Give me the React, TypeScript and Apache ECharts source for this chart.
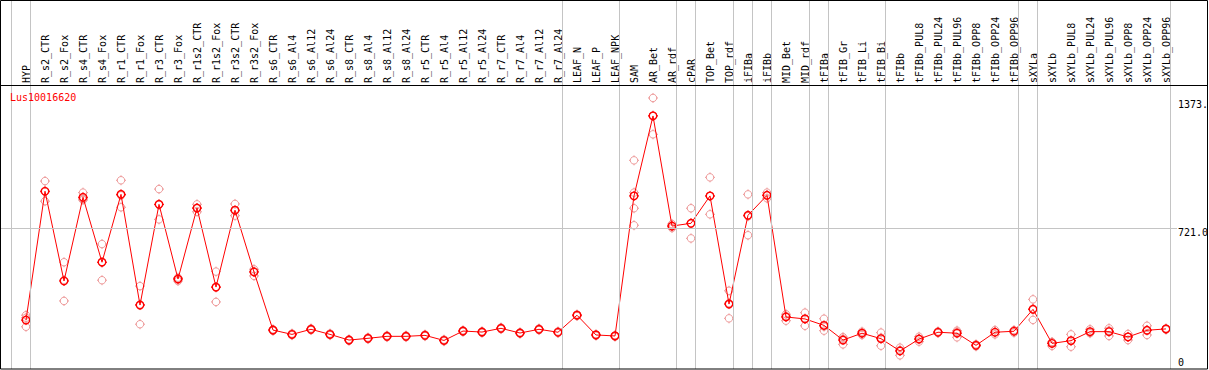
import React, { useEffect, useRef } from "react";
import * as echarts from "echarts";

const geneName = "Lus10016620";

const categories = [
  "HYP", "R_s2_CTR", "R_s2_Fox", "R_s4_CTR", "R_s4_Fox", "R_r1_CTR", "R_r1_Fox",
  "R_r3_CTR", "R_r3_Fox", "R_r1s2_CTR", "R_r1s2_Fox", "R_r3s2_CTR", "R_r3s2_Fox",
  "R_s6_CTR", "R_s6_Al4", "R_s6_Al12", "R_s6_Al24", "R_s8_CTR", "R_s8_Al4",
  "R_s8_Al12", "R_s8_Al24", "R_r5_CTR", "R_r5_Al4", "R_r5_Al12", "R_r5_Al24",
  "R_r7_CTR", "R_r7_Al4", "R_r7_Al12", "R_r7_Al24", "LEAF_N", "LEAF_P", "LEAF_NPK",
  "SAM", "AR_Bet", "AR_rdf", "cPAR", "TOP_Bet", "TOP_rdf", "iFIBa", "iFIBb",
  "MID_Bet", "MID_rdf", "tFIBa", "tFIB_Gr", "tFIB_Li", "tFIB_Bi", "tFIBb",
  "tFIBb_PUL8", "tFIBb_PUL24", "tFIBb_PUL96", "tFIBb_OPP8", "tFIBb_OPP24",
  "tFIBb_OPP96", "sXYLa", "sXYLb", "sXYLb_PUL8", "sXYLb_PUL24", "sXYLb_PUL96",
  "sXYLb_OPP8", "sXYLb_OPP24", "sXYLb_OPP96",
];

const meanValues = [
  250, 909, 450, 878, 546, 893, 327, 842, 460, 823, 419, 812, 496,
  199, 177, 203, 177, 148, 157, 167, 167, 172, 146, 194, 189, 208, 184, 203, 188,
  275, 174, 169,
  885, 1294, 731, 745, 885, 332, 786, 888, 266, 256, 223, 148, 183, 155, 92,
  153, 188, 183, 121, 188, 193, 305, 131, 145, 191, 191, 164, 198, 205,
];

const replicateValues = [
  [275, 216, 262], [961, 858, 906], [546, 348, 455], [902, 864, 870], [639, 454, 545],
  [965, 827, 888], [424, 229, 330], [920, 765, 840], [467, 450, 462], [842, 804, 822],
  [498, 343, 417], [844, 784, 808], [510, 476, 500],
  [203, 195], [181, 173], [207, 199], [181, 173], [152, 144], [161, 153], [171, 163],
  [171, 163], [176, 168], [150, 142], [198, 190], [193, 185], [212, 204], [188, 180],
  [207, 199], [192, 184],
  [279, 271], [178, 170], [173, 165],
  [1067, 902, 822, 735], [1386, 1200, 1296], [741, 721, 731], [822, 668, 745],
  [980, 791, 884], [400, 259, 337], [893, 684, 781], [902, 873, 889],
  [280, 247, 271], [288, 221, 258], [257, 196, 217], [126, 155, 163], [191, 174, 182],
  [186, 119, 160], [109, 70, 97], [165, 140, 154], [192, 184], [196, 162, 190],
  [126, 116], [199, 177, 188], [199, 186], [356, 251, 308], [137, 118, 138],
  [177, 114, 144], [203, 183, 187], [208, 169, 196], [179, 148, 164], [221, 174, 199],
  [207, 201],
];

// group separators: after the last category of each group (index + offset)
const groupBoundaries = [-0.76, 0.24, 28.24, 31.24, 34.24, 35.24, 37.24, 38.24, 39.24, 41.24, 42.24, 45.24, 52.24, 53.24, 60.24];

const yAxisMax = 1886.9;
const midLineValue = 721;
const yTickValues = [1373, 721, 0];
const yTickLabels = ["1373.", "721.0", "0"];

const MONO = "'DejaVu Sans Mono', monospace";
const tickSymbol = "path://M5,0L5,1.4M5,8.6L5,10M0,5L1.4,5M8.6,5L10,5";

export default function App() {
  const ref = useRef<HTMLDivElement>(null);

  useEffect(() => {
    document.body.style.margin = "0";
    if (!ref.current) return;
    const chart = echarts.init(ref.current, null, { renderer: "svg" });

    const lineData = meanValues.map((v, i) => [i, v]);
    const repData: number[][] = [];
    replicateValues.forEach((arr, i) => arr.forEach((v) => repData.push([i, v])));

    const pink = "#ee9a9a";
    const red = "#ff0000";

    const option: any = {
      animation: false,
      backgroundColor: "#ffffff",
      grid: [
        { left: 1, right: 32, top: 0, bottom: 1, containLabel: false },
        { left: 16.5, right: 33.5, top: 85, height: 1, containLabel: false },
      ],
      xAxis: [
        {
          type: "value",
          gridIndex: 0,
          min: -25 / 19,
          max: 1151 / 19,
          show: false,
          splitLine: { show: false },
        },
        {
          type: "category",
          gridIndex: 1,
          position: "top",
          data: categories,
          axisLine: { show: false },
          axisTick: { show: false },
          splitLine: { show: false },
          axisLabel: {
            interval: 0,
            rotate: 90,
            margin: 2,
            fontFamily: MONO,
            fontSize: 10,
            color: "#000000",
          },
        },
      ],
      yAxis: [
        {
          type: "value",
          gridIndex: 0,
          min: 0,
          max: yAxisMax,
          show: false,
          splitLine: { show: false },
        },
        { type: "value", gridIndex: 1, show: false, splitLine: { show: false } },
      ],
      series: [
        {
          type: "line",
          name: "guides",
          xAxisIndex: 0,
          yAxisIndex: 0,
          data: [],
          silent: true,
          z: 1,
          markLine: {
            silent: true,
            symbol: "none",
            animation: false,
            label: { show: false },
            lineStyle: { color: "#c4c4c4", width: 1, type: "solid" },
            data: [
              ...groupBoundaries.map((b) => ({ xAxis: b })),
              { yAxis: midLineValue },
            ],
          },
        },
        {
          type: "scatter",
          name: "replicates",
          xAxisIndex: 0,
          yAxisIndex: 0,
          data: repData,
          symbol: "circle",
          symbolSize: 7.5,
          z: 2,
          itemStyle: { color: "rgba(0,0,0,0)", borderColor: pink, borderWidth: 1, opacity: 1 },
        },
        {
          type: "scatter",
          name: "replicateTicks",
          xAxisIndex: 0,
          yAxisIndex: 0,
          data: repData,
          symbol: tickSymbol,
          symbolSize: 10,
          z: 2,
          itemStyle: { color: "rgba(0,0,0,0)", borderColor: pink, borderWidth: 1, opacity: 1 },
        },
        {
          type: "line",
          name: geneName,
          xAxisIndex: 0,
          yAxisIndex: 0,
          data: lineData,
          symbol: "circle",
          symbolSize: 7.5,
          showAllSymbol: true,
          z: 3,
          lineStyle: { color: red, width: 1 },
          itemStyle: { color: "rgba(0,0,0,0)", borderColor: red, borderWidth: 1.4 },
        },
        {
          type: "scatter",
          name: "meanTicks",
          xAxisIndex: 0,
          yAxisIndex: 0,
          data: lineData,
          symbol: tickSymbol,
          symbolSize: 10,
          z: 4,
          itemStyle: { color: "rgba(0,0,0,0)", borderColor: red, borderWidth: 1, opacity: 1 },
        },
      ],
    };
    chart.setOption(option);

    const labelGraphics = yTickValues.map((v, k) => {
      const py = chart.convertToPixel({ yAxisIndex: 0 } as any, v) as number;
      const isZero = v === 0;
      return {
        type: "text",
        x: 1178,
        y: isZero ? py - 6.5 : py + 4,
        z: 10,
        style: {
          text: yTickLabels[k],
          fontFamily: MONO,
          fontSize: 10,
          fill: "#000000",
          align: "left",
          verticalAlign: "middle",
        },
      };
    });

    chart.setOption({
      graphic: [
        {
          type: "rect",
          shape: { x: 0.5, y: 0.5, width: 1207, height: 368.5 },
          style: { fill: "none", stroke: "#000000", lineWidth: 1 },
          z: 20,
          silent: true,
        },
        {
          type: "line",
          shape: { x1: 0, y1: 85.5, x2: 1208, y2: 85.5 },
          style: { stroke: "#000000", lineWidth: 1 },
          z: 20,
          silent: true,
        },
        {
          type: "text",
          x: 10,
          y: 97,
          z: 10,
          style: {
            text: geneName,
            fontFamily: MONO,
            fontSize: 10,
            fill: "#ff0000",
            align: "left",
            verticalAlign: "middle",
          },
        },
        ...labelGraphics,
      ],
    });

    return () => chart.dispose();
  }, []);

  return <div ref={ref} style={{ width: 1209, height: 370 }} />;
}
